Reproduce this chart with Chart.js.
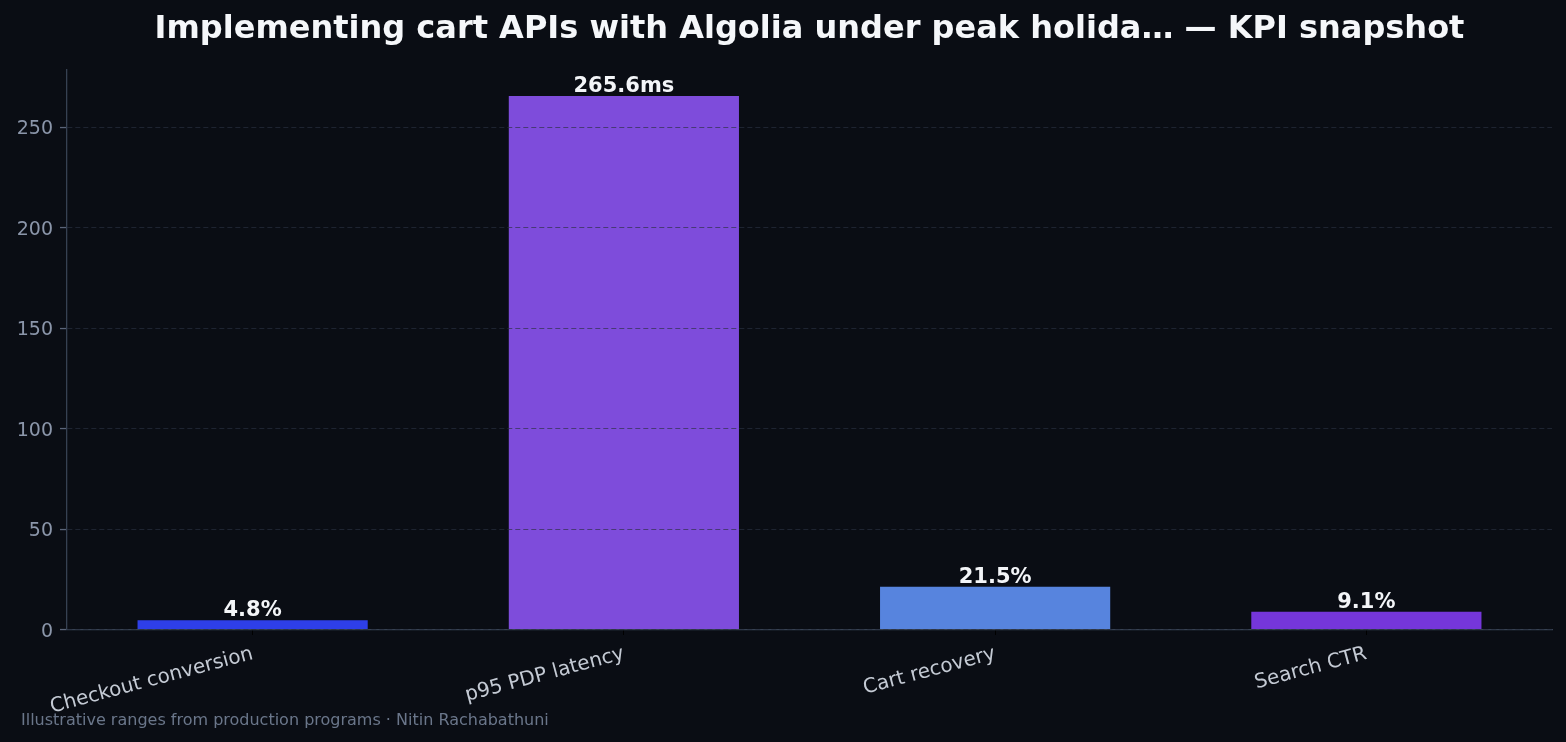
<!DOCTYPE html>
<html>
<head>
<meta charset="utf-8">
<script src="https://cdn.jsdelivr.net/npm/chart.js@4/dist/chart.umd.min.js"></script>
<style>
  html, body { margin: 0; padding: 0; background: #0a0d14; }
  #wrap { width: 1566px; height: 742px; }
  canvas { display: block; background: #0a0d14; }
</style>
</head>
<body>
<div id="wrap"><canvas id="myChart" width="1566" height="742"></canvas></div>
<script>
// data
const categories = ['Checkout conversion', 'p95 PDP latency', 'Cart recovery', 'Search CTR'];
const values = [4.8, 265.6, 21.5, 9.1];
const units = ['%', 'ms', '%', '%'];
const barColors = ['#2e3fe8', '#7e4cdb', '#5784de', '#7536da'];
const yTicks = [0, 50, 100, 150, 200, 250];

const titleText = 'Implementing cart APIs with Algolia under peak holida\u2026 \u2014 KPI snapshot';
const footerText = 'Illustrative ranges from production programs \u00b7 Nitin Rachabathuni';

Chart.defaults.font.family = "'DejaVu Sans', sans-serif";

// value labels above bars + footer note
const labelsPlugin = {
  id: 'valueLabels',
  afterDatasetsDraw(chart) {
    const ctx = chart.ctx;
    const meta = chart.getDatasetMeta(0);
    ctx.save();
    ctx.font = "bold 21px 'DejaVu Sans'";
    ctx.fillStyle = '#f3f5f8';
    ctx.textAlign = 'center';
    ctx.textBaseline = 'alphabetic';
    meta.data.forEach((bar, i) => {
      ctx.fillText(values[i].toFixed(1) + units[i], bar.x, bar.y - 4);
    });
    ctx.restore();
  },
  afterDraw(chart) {
    const ctx = chart.ctx;
    ctx.save();
    ctx.font = "16px 'DejaVu Sans'";
    ctx.fillStyle = '#6a768a';
    ctx.textAlign = 'left';
    ctx.textBaseline = 'alphabetic';
    ctx.fillText(footerText, 21, 725);
    ctx.restore();
  }
};

const ctx = document.getElementById('myChart');

new Chart(ctx, {
  type: 'bar',
  data: {
    labels: categories,
    datasets: [{
      data: values,
      backgroundColor: barColors,
      borderWidth: 0,
      barPercentage: 0.62,
      categoryPercentage: 1.0
    }]
  },
  options: {
    responsive: false,
    animation: false,
    layout: { padding: { left: 0, right: 14, top: 0, bottom: 0 } },
    plugins: {
      legend: { display: false },
      tooltip: { enabled: false },
      title: {
        display: true,
        text: titleText,
        fullSize: false,
        color: '#f5f7fa',
        font: { size: 32, weight: 'bold' },
        padding: { top: 10, bottom: 21 }
      }
    },
    scales: {
      x: {
        grid: {
          display: true,
          drawOnChartArea: false,
          drawTicks: true,
          offset: false,
          tickLength: 5,
          tickColor: '#000000',
          z: 1
        },
        border: { display: true, color: '#364152', width: 1.3, z: 1 },
        ticks: {
          color: '#c4cad4',
          font: { size: 20 },
          minRotation: 15,
          maxRotation: 15,
          padding: 7
        },
        afterFit(scale) { scale.height = 112; }
      },
      y: {
        min: 0,
        max: Math.max(...values) * 1.05,
        afterBuildTicks(scale) {
          scale.ticks = yTicks.map(v => ({ value: v }));
        },
        grid: {
          color: 'rgba(42,48,64,0.65)',
          lineWidth: 1.1,
          tickLength: 7,
          tickColor: '#5a6478',
          tickWidth: 1.3,
          tickBorderDash: [],
          z: 1
        },
        border: { display: true, color: '#364152', width: 1.3, dash: [5, 3], z: 1 },
        ticks: {
          color: '#8b96aa',
          font: { size: 19 },
          padding: 7,
          labelOffset: 2
        },
        afterFit(scale) { scale.width = 67; }
      }
    }
  },
  plugins: [labelsPlugin]
});
</script>
</body>
</html>
